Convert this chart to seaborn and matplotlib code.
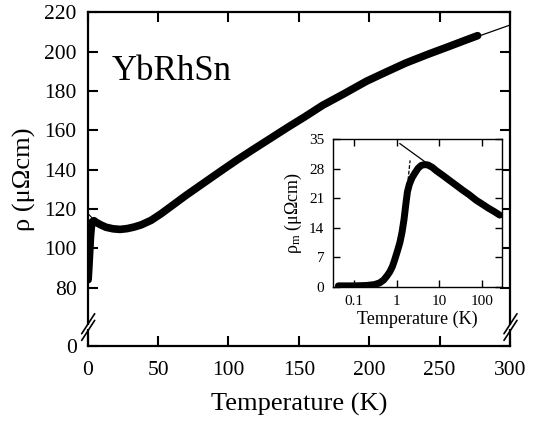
import matplotlib
matplotlib.use("Agg")
import matplotlib.pyplot as plt
import seaborn as sns
from matplotlib.ticker import FixedLocator, FixedFormatter, NullLocator

# Total resistivity of YbRhSn versus temperature (main panel)
temp_main = [0.3, 0.8, 1.4, 2.0, 2.6, 3.3, 4.5, 6, 9, 13, 18, 23, 28, 33, 38, 45, 52,
             59, 70, 82, 94, 106, 118, 130, 142, 154, 167, 182, 198, 212, 226, 242,
             257, 268, 277]
rho_main = [84, 90, 98, 106, 111, 113.5, 114, 113.2, 112, 110.7, 109.9, 109.6, 110.0,
            110.8, 111.9, 114.2, 117.5, 121.2, 127, 133, 139, 144.9, 150.5, 156,
            161.5, 166.8, 172.8, 178.6, 185, 189.7, 194.3, 198.8, 202.8, 205.8, 208.2]

# Guide lines in the main panel
hi_fit_t = [255, 300]
hi_fit_rho = [202.2, 213.6]
lo_fit_t = [0.0, 4.7]
lo_fit_rho = [117.8, 114.3]

# Magnetic resistivity versus temperature (inset, log T)
temp_inset = [0.043, 0.07, 0.1, 0.15, 0.2, 0.3, 0.4, 0.5, 0.6, 0.7, 0.8, 0.9, 1.05,
              1.2, 1.35, 1.5, 1.65, 1.8, 2.0, 2.3, 2.7, 3.2, 3.8, 4.6, 5.5, 7, 8.7,
              12, 17.8, 25, 36, 50, 75, 100, 141, 200, 266]
rho_mag = [0.2, 0.2, 0.2, 0.25, 0.3, 0.5, 0.9, 1.6, 2.6, 3.6, 4.8, 6.3, 8.5, 10.5,
           13, 16, 19.5, 22.5, 24.3, 25.8, 27.0, 28.1, 28.8, 29.0, 28.9, 28.3, 27.5,
           26.5, 25.2, 24.1, 22.9, 21.9, 20.5, 19.7, 18.7, 17.8, 17.0]

# Kondo -log T line and the steep tangent near the transition
kondo_t = [1.19, 4.6]
kondo_rho = [34.0, 29.7]
tangent_t = [1.65, 2.08]
tangent_rho = [20.0, 30.0]

main_xticks = [0, 50, 100, 150, 200, 250, 300]
main_yticks = [80, 100, 120, 140, 160, 180, 200, 220]
inset_xticks = [0.1, 1, 10, 100]
inset_xticklabels = ["0.1", "1", "10", "100"]
inset_yticks = [0, 7, 14, 21, 28, 35]

Y_FLOOR = 50.4  # value sitting at the bottom of the broken ρ axis (labelled 0)

sns.set_theme(style="ticks")
plt.rcParams.update({
    "font.family": ["Liberation Serif", "DejaVu Serif"],
    "mathtext.fontset": "custom",
    "mathtext.rm": "Liberation Serif",
    "mathtext.it": "Liberation Serif:italic",
    "axes.edgecolor": "black",
    "axes.labelcolor": "black",
    "text.color": "black",
    "xtick.color": "black",
    "ytick.color": "black",
    "xtick.direction": "in",
    "ytick.direction": "in",
    "axes.facecolor": "white",
    "figure.facecolor": "white",
    "lines.solid_joinstyle": "round",
    "lines.solid_capstyle": "round",
})

fig = plt.figure(figsize=(5.37, 4.22), dpi=100)

# ---- main panel ----
ax = fig.add_axes([0.1633, 0.1808, 0.7864, 0.7896])
sns.lineplot(x=temp_main, y=rho_main, ax=ax, color="black", lw=5.5,
             estimator=None, sort=False)
sns.lineplot(x=hi_fit_t, y=hi_fit_rho, ax=ax, color="black", lw=0.9,
             estimator=None, sort=False)
sns.lineplot(x=lo_fit_t, y=lo_fit_rho, ax=ax, color="black", lw=0.8,
             estimator=None, sort=False)

ax.set_xlim(0, 300)
ax.set_ylim(Y_FLOOR, 220)
ax.xaxis.set_major_locator(FixedLocator(main_xticks))
ax.yaxis.set_major_locator(FixedLocator([Y_FLOOR] + main_yticks))
ax.yaxis.set_major_formatter(FixedFormatter(["0"] + [str(v) for v in main_yticks]))
ax.tick_params(which="major", direction="in", length=7, width=1.5,
               top=True, right=True, labelsize=15.5)
ax.tick_params(axis="x", pad=11)
ax.tick_params(axis="y", pad=8)
for s in ax.spines.values():
    s.set_linewidth(1.6)
    s.set_color("black")
ax.set_xlabel("Temperature (K)", fontsize=19, labelpad=9)
ax.set_ylabel("ρ (μΩcm)", fontsize=19, labelpad=6)
ax.text(17.3, 185.6, "YbRhSn", fontsize=25, ha="left", va="baseline")

# axis-break marks on both vertical spines
W, H = 422.3, 333.2  # axes size in pixels
def break_mark(x0):
    for yc in (0.046, 0.066):
        ax.plot([x0 - 6 / W, x0 + 7 / W], [yc - 10 / H, yc + 10 / H],
                transform=ax.transAxes, color="black", lw=1.2,
                clip_on=False, zorder=6)
    ax.plot([x0, x0], [0.046 + 1 / H, 0.066 - 1 / H], transform=ax.transAxes,
            color="white", lw=3, clip_on=False, zorder=5, solid_capstyle="butt")
break_mark(0.0)
break_mark(1.0)

# ---- inset ----
ins = fig.add_axes([0.6195, 0.3206, 0.3147, 0.3493])
ins.set_facecolor("white")
sns.lineplot(x=temp_inset, y=rho_mag, ax=ins, color="black", lw=5,
             estimator=None, sort=False)
sns.lineplot(x=kondo_t, y=kondo_rho, ax=ins, color="black", lw=0.9,
             estimator=None, sort=False)
sns.lineplot(x=tangent_t, y=tangent_rho, ax=ins, color="black", lw=0.9,
             estimator=None, sort=False, linestyle=(0, (3, 1.5)))
ins.set_xscale("log")
ins.set_xlim(0.0316, 295)
ins.set_ylim(0, 35)
ins.xaxis.set_major_locator(FixedLocator(inset_xticks))
ins.xaxis.set_major_formatter(FixedFormatter(inset_xticklabels))
ins.xaxis.set_minor_locator(NullLocator())
ins.yaxis.set_major_locator(FixedLocator(inset_yticks))
ins.tick_params(which="major", direction="in", length=5, width=1.0,
                top=True, right=True, labelsize=11, pad=6)
for s in ins.spines.values():
    s.set_linewidth(1.0)
    s.set_color("black")
ins.set_xlabel("Temperature (K)", fontsize=13, labelpad=2)
ins.set_ylabel(r"ρ$_\mathrm{m}$ (μΩcm)", fontsize=13, labelpad=4)

fig.savefig("out.png", dpi=100)
